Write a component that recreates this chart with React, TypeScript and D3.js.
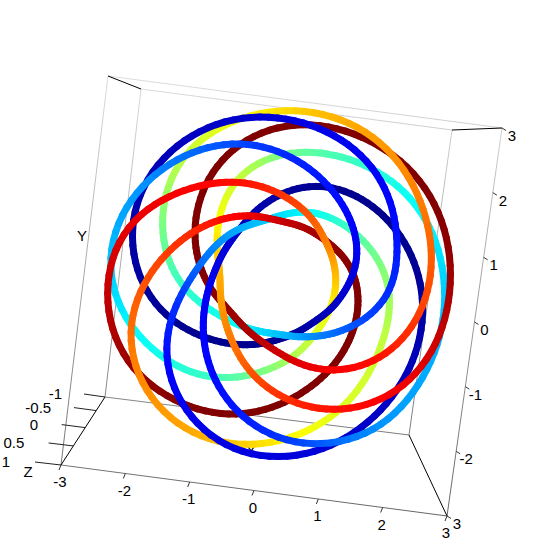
import React, { useMemo } from "react";
import * as d3 from "d3";

// knot centreline
const knotX = [
  -2.38, -2.65, -2.34, -1.83, -1.3, -0.8, 0.02, 0.87, 1.51, 1.81, 1.92, 1.94, 1.48, 0.71, 0.14, -0.38, -0.99, -1.83, -2.12, -1.92, -0.97, -0.23,
  0.52, 1.24, 1.96, 2.32, 2.56, 2.59, 2.4, 1.86, 1.13, 0.18, -0.34, -0.77, -1.31, -1.53, -1.4, -0.96, -0.48, 0.07, 1.2, 1.76, 2.26, 2.64, 2.89, 2.94, 2.89, 2.66, 2.28, 1.76, 1.17, 0.28, -0.29, -0.65, -0.9,
  -0.97, -1.12, -0.94, -0.42, 0.38, 1.26, 2.12, 2.54, 2.82, 2.92, 2.68, 2.07, 1.54, 0.96, 0.38, -0.56, -0.92, -1.13, -1.17, -1.07, -0.76, -0.27, 0.45, 1.27, 1.82, 2.26, 2.52, 2.48, 1.92, 1.25, 0.37, -0.58, -1.11, -1.57, -1.79, -1.63, -1.37, -1.04, -0.32, 0.51, 1.17, 1.93, 1.88, 1.68, 1.34, 0.71, 0, -0.69, -1.49, -1.94, -2.3, -2.47, -2.2, -1.77, -1.08, -0.15, 0.71, 1.26, 1.4, 1.31, 0.82, 0.3, -0.53, -1.36, -2.35, -2.78, -2.91, -2.78, -1.99, -1.16, -0.11, 0.67, 0.96, 0.94, 0.71, 0.21, -0.28, -1.01, -1.8, -2.59, -2.92, -2.96, -2.58, -1.99, -1.25, -0.08, 0.58, 1.09, 1.3, 1.13, 0.68, 0.15, -0.47, -1.23, -2.02,
];
const knotY = [
  -0.19, 0.82, 1.8, 2.32, 2.68, 2.8, 2.82, 2.56, 2.06, 1.47, 0.89, 0.03, -0.43, -0.79, -0.82, -0.8, -0.58, 0.01, 0.89, 2.03, 2.76, 3.0,
  2.99, 2.79, 2.18, 1.54, 0.92, 0.41, -0.44, -1.08, -1.35, -1.12, -0.88, -0.5, 0.07, 0.97, 1.71, 2.33, 2.63, 2.81, 2.66, 2.42, 2.05, 1.49, 0.79, 0.1, -0.55, -1.06, -1.6, -1.88, -2.04, -1.89, -1.53, -1.01, -0.45,
  0.12, 0.85, 1.74, 2.15, 2.33, 2.2, 1.74, 1.22, 0.38, -0.42, -1.2, -2.27, -2.51, -2.68, -2.66, -2.14, -1.65, -1.07, -0.48, 0.1, 0.79, 1.43, 1.78, 1.63, 1.25, 0.71, 0, -1.0, -2.06, -2.67, -2.98, -2.91, -2.54, -1.99, -1.33, -0.54, 0.07, 0.63, 1.02, 1.3, 1.04, 0.15, -0.78, -1.43, -2.02, -2.5, -2.8, -2.84, -2.61, -2.22, -1.67, -1.07, -0.16, 0.48, 0.97, 1.04, 0.82, 0.36, -0.1, -0.86, -1.62, -2.03, -2.35, -2.25, -1.75, -1.11, -0.48, 0.63, 1.25, 1.61, 1.5, 0.85, 0.25, -0.28, -0.76, -1.35, -1.58, -1.75, -1.5, -0.84, -0.26, 0.33, 1.35, 1.9, 2.29, 2.2, 1.81, 1.25, 0.59, 0.04, -0.54, -0.9, -1.09, -1.01, -0.66,
];
const knotZ = [
  -0.92, -0.6, -0.4, -0.3, -0.05, 0.1, 0.35, 0.55, 0.8, 0.92, 1, 1, 0.85, 0.45, 0, -0.3, -0.75, -1, -0.9, -0.6, -0.25, 0,
  0.05, 0.1, 0.3, 0.45, 0.6, 0.7, 0.9, 1, 0.97, 0.65, 0.2, -0.1, -0.6, -0.9, -0.95, -0.85, -0.75, -0.65, -0.45, -0.3, -0.2, -0.1, 0, 0.15, 0.25, 0.4, 0.6, 0.75, 0.9, 1, 0.9, 0.6, 0.2,
  -0.3, -0.7, -0.95, -0.95, -0.9, -0.85, -0.7, -0.6, -0.5, -0.2, 0, 0.1, 0.25, 0.4, 0.5, 0.9, 1, 1, 0.9, 0.7, 0.3, -0.3, -0.8, -0.95, -0.95, -0.9, -0.85, -0.75, -0.6, -0.3, 0, 0.2, 0.45, 0.75, 0.95, 1, 0.9, 0.6, 0.1, -0.4, -0.75, -0.98, -1, -0.95, -0.85, -0.75, -0.55, -0.3, 0, 0.15, 0.3, 0.6, 0.95, 1, 0.9, 0.3, -0.1, -0.6, -0.75, -0.9, -0.98, -1, -0.92, -0.75, -0.25, 0, 0.1, 0.35, 0.9, 1, 0.87, 0.3, 0.05, -0.15, -0.3, -0.8, -0.9, -1, -0.9, -0.6, -0.2, 0, 0.3, 0.6, 0.85, 1, 0.95, 0.87, 0.75, 0.5, 0.1, -0.2, -0.5, -0.8, -0.97,
];
const knotColor = [
  0.02, 0.03, 0.05, 0.05, 0.065, 0.08, 0.09, 0.11, 0.12, 0.125, 0.15, 0.17, 0.2, 0.27, 0.32, 0.36, 0.4, 0.45, 0.5, 0.57, 0.62, 0.67,
  0.7, 0.72, 0.74, 0.76, 0.78, 0.8, 0.82, 0.87, 0.88, 0.93, 0.96, 0.98, 1, 1, 1, 1, 1, 1, 1, 1, 1, 1, 0.98, 0.96, 0.93, 0.9, 0.88, 0.87, 0.86, 0.83, 0.78, 0.75, 0.72,
  0.7, 0.62, 0.57, 0.5, 0.46, 0.42, 0.38, 0.36, 0.33, 0.3, 0.29, 0.28, 0.24, 0.2, 0.17, 0.14, 0.13, 0.125, 0.11, 0.1, 0.06, 0.02, 0, 0, 0, 0, 0.02, 0.05, 0.06, 0.08, 0.09, 0.09, 0.1, 0.12, 0.13, 0.18, 0.23, 0.28, 0.33, 0.39, 0.46, 0.53, 0.57, 0.58, 0.59, 0.62, 0.66, 0.7, 0.72, 0.73, 0.75, 0.77, 0.8, 0.83, 0.87, 0.93, 0.98, 1, 1, 1, 1, 1, 1, 1, 0.98, 0.95, 0.93, 0.9, 0.88, 0.87, 0.82, 0.75, 0.68, 0.62, 0.58, 0.52, 0.47, 0.43, 0.4, 0.36, 0.33, 0.3, 0.27, 0.24, 0.2, 0.16, 0.14, 0.125, 0.1, 0.07, 0.03, 0, 0, 0, 0.01,
];

const xTicks = [-3, -2, -1, 0, 1, 2, 3];
const yTicks = [-3, -2, -1, 0, 1, 2, 3];
const yTickLabels = ["3", "-2", "-1", "0", "1", "2", "3"];
const zTicks = [-1, -0.5, 0, 0.5, 1];
const zDepth = [0, 0.2, 0.45, 0.72, 1];

// box corners at z=-1 and z=1, order (-3,-3) (3,-3) (3,3) (-3,3)
const farCorners = [[105, 397], [409, 435], [452, 130], [141, 89]];
const nearCorners = [[61, 465], [447, 516], [502, 128], [108, 76]];

const width = 557;
const height = 560;
const font = "'Liberation Sans', Arial, sans-serif";

const unit = d3.scaleLinear().domain([-3, 3]).range([0, 1]);
const depth = d3.scaleLinear().domain(zTicks).range(zDepth);

const project = (x: number, y: number, z: number): [number, number] => {
  const u = unit(x);
  const v = unit(y);
  const w = depth(z);
  const mix = (k: number) => {
    const c = (i: number) => farCorners[i][k] + (nearCorners[i][k] - farCorners[i][k]) * w;
    return (c(0) * (1 - u) + c(1) * u) * (1 - v) + (c(3) * (1 - u) + c(2) * u) * v;
  };
  return [mix(0), mix(1)];
};

const jet = d3
  .scaleLinear<string>()
  .domain([0, 0.125, 0.375, 0.625, 0.875, 1])
  .range(["#00008f", "#0000ff", "#00ffff", "#ffff00", "#ff0000", "#800000"]);

const boxLines: [number[], number[], string][] = [
  [nearCorners[0], nearCorners[1], "url(#boxFade)"],
  [nearCorners[1], nearCorners[2], "url(#boxFade)"],
  [nearCorners[2], nearCorners[3], "url(#boxFade)"],
  [nearCorners[3], nearCorners[0], "url(#boxFade)"],
  [farCorners[0], farCorners[1], "url(#boxFade)"],
  [farCorners[1], farCorners[2], "url(#boxFade)"],
  [farCorners[2], farCorners[3], "url(#boxFade)"],
  [farCorners[3], farCorners[0], "url(#boxFade)"],
  [farCorners[0], nearCorners[0], "#000"],
  [farCorners[1], nearCorners[1], "#000"],
  [farCorners[2], nearCorners[2], "#000"],
  [farCorners[3], nearCorners[3], "#000"],
];

// walks the hand-read points by angle and evens out the reading noise in radius
const smoothKnot = () => {
  const n = knotX.length;
  const raw = knotX.map((x, i) => Math.atan2(knotY[i], x));
  const sweep: number[] = [0];
  for (let i = 1; i <= n; i++) {
    let d = raw[i % n] - raw[i - 1];
    while (d > Math.PI) d -= 2 * Math.PI;
    while (d < -Math.PI) d += 2 * Math.PI;
    sweep.push(sweep[i - 1] - d);
  }
  const total = sweep[n];
  const rows: { a: number; r: number; z: number; c: number }[] = [];
  [-1, 0, 1].forEach((w) =>
    knotX.forEach((x, i) =>
      rows.push({
        a: sweep[i] + w * total,
        r: Math.hypot(x, knotY[i]),
        z: knotZ[i],
        c: knotColor[i],
      })
    )
  );
  rows.sort((p, q) => d3.ascending(p.a, q.a));
  const domain = rows.map((d) => d.a);
  const rAt = d3.scaleLinear().domain(domain).range(rows.map((d) => d.r));
  const zAt = d3.scaleLinear().domain(domain).range(rows.map((d) => d.z));
  const cAt = d3.scaleLinear().domain(domain).range(rows.map((d) => d.c));
  const step = (3 * Math.PI) / 180;
  const size = Math.round(total / step);
  const gridStep = total / size;
  const kernel = d3.range(-9, 10).map((k) => Math.exp(-(k * k) / (2 * 16)));
  const kernelSum = d3.sum(kernel);
  const soften = (f: (a: number) => number) => {
    const g = d3.range(size).map((j) => f(j * gridStep));
    return g.map((_, j) => d3.sum(kernel, (w, k) => w * g[(j + k - 9 + size) % size]) / kernelSum);
  };
  const rs = soften((a) => rAt(a));
  const zs = soften((a) => zAt(a));
  const cs = soften((a) => cAt(a));
  return d3.range(size).map((j) => {
    const a = raw[0] - j * gridStep;
    return { x: rs[j] * Math.cos(a), y: rs[j] * Math.sin(a), z: zs[j], c: cs[j] };
  });
};

const App = () => {
  const segments = useMemo(() => {
    const sx = d3.scaleLinear().domain([-3, 3]).range([-174, 174]);
    const sy = d3.scaleLinear().domain([-3, 3]).range([174, -174]);
    const pts = smoothKnot();
    const list = pts.map((p, i) => {
      const q = pts[(i + 1) % pts.length];
      return {
        x1: sx(p.x),
        y1: sy(p.y),
        x2: sx(q.x),
        y2: sy(q.y),
        z: (p.z + q.z) / 2,
        color: jet(Math.max(0, Math.min(1, p.c))),
      };
    });
    return list.sort((p, q) => d3.ascending(p.z, q.z));
  }, []);

  return (
    <svg
      width={width}
      height={height}
      style={{ position: "absolute", left: 0, top: 0, background: "#fff" }}
      fontFamily={font}
      fontSize={15}
    >
      <defs>
        <linearGradient id="boxFade" gradientUnits="userSpaceOnUse" x1="0" y1="76" x2="0" y2="516">
          <stop offset="0" stopColor="#dddddd" />
          <stop offset="1" stopColor="#666666" />
        </linearGradient>
      </defs>

      {boxLines.map(([a, b, stroke], i) => (
        <line key={i} x1={a[0]} y1={a[1]} x2={b[0]} y2={b[1]} stroke={stroke} strokeWidth={1} />
      ))}

      {xTicks.map((t) => {
        const [px, py] = project(t, -3, 1);
        return (
          <g key={`x${t}`}>
            <line x1={px} y1={py} x2={px - 2} y2={py + 5} stroke="#333" />
            <text x={px - 1} y={py + 22} textAnchor="middle">{t}</text>
          </g>
        );
      })}

      {yTicks.map((t, i) => {
        const [px, py] = project(3, t, 1);
        return (
          <g key={`y${t}`}>
            <line x1={px} y1={py} x2={px + 4} y2={py + 2.5} stroke="#333" />
            <text x={px + 10} y={py + 13} textAnchor="middle">{yTickLabels[i]}</text>
          </g>
        );
      })}

      {zTicks.map((t) => {
        const [px, py] = project(-3, -3, t);
        const len = 21 + (t + 1) * 2.5;
        return (
          <g key={`z${t}`}>
            <line x1={px} y1={py} x2={px - len} y2={py - 3} stroke="#222" />
            <text x={px - 43 - (t + 1) * 4} y={py + 2} textAnchor="end">{t}</text>
          </g>
        );
      })}

      <text x={82} y={241} textAnchor="middle">Y</text>
      <text x={28} y={477} textAnchor="middle">Z</text>
      <text x={251} y={456} textAnchor="middle">X</text>

      <g transform="translate(278,284) rotate(7.4)">
        {segments.map((s, i) => (
          <line
            key={i}
            x1={s.x1}
            y1={s.y1}
            x2={s.x2}
            y2={s.y2}
            stroke={s.color}
            strokeWidth={7}
            strokeLinecap="round"
          />
        ))}
      </g>
    </svg>
  );
};

export default App;
